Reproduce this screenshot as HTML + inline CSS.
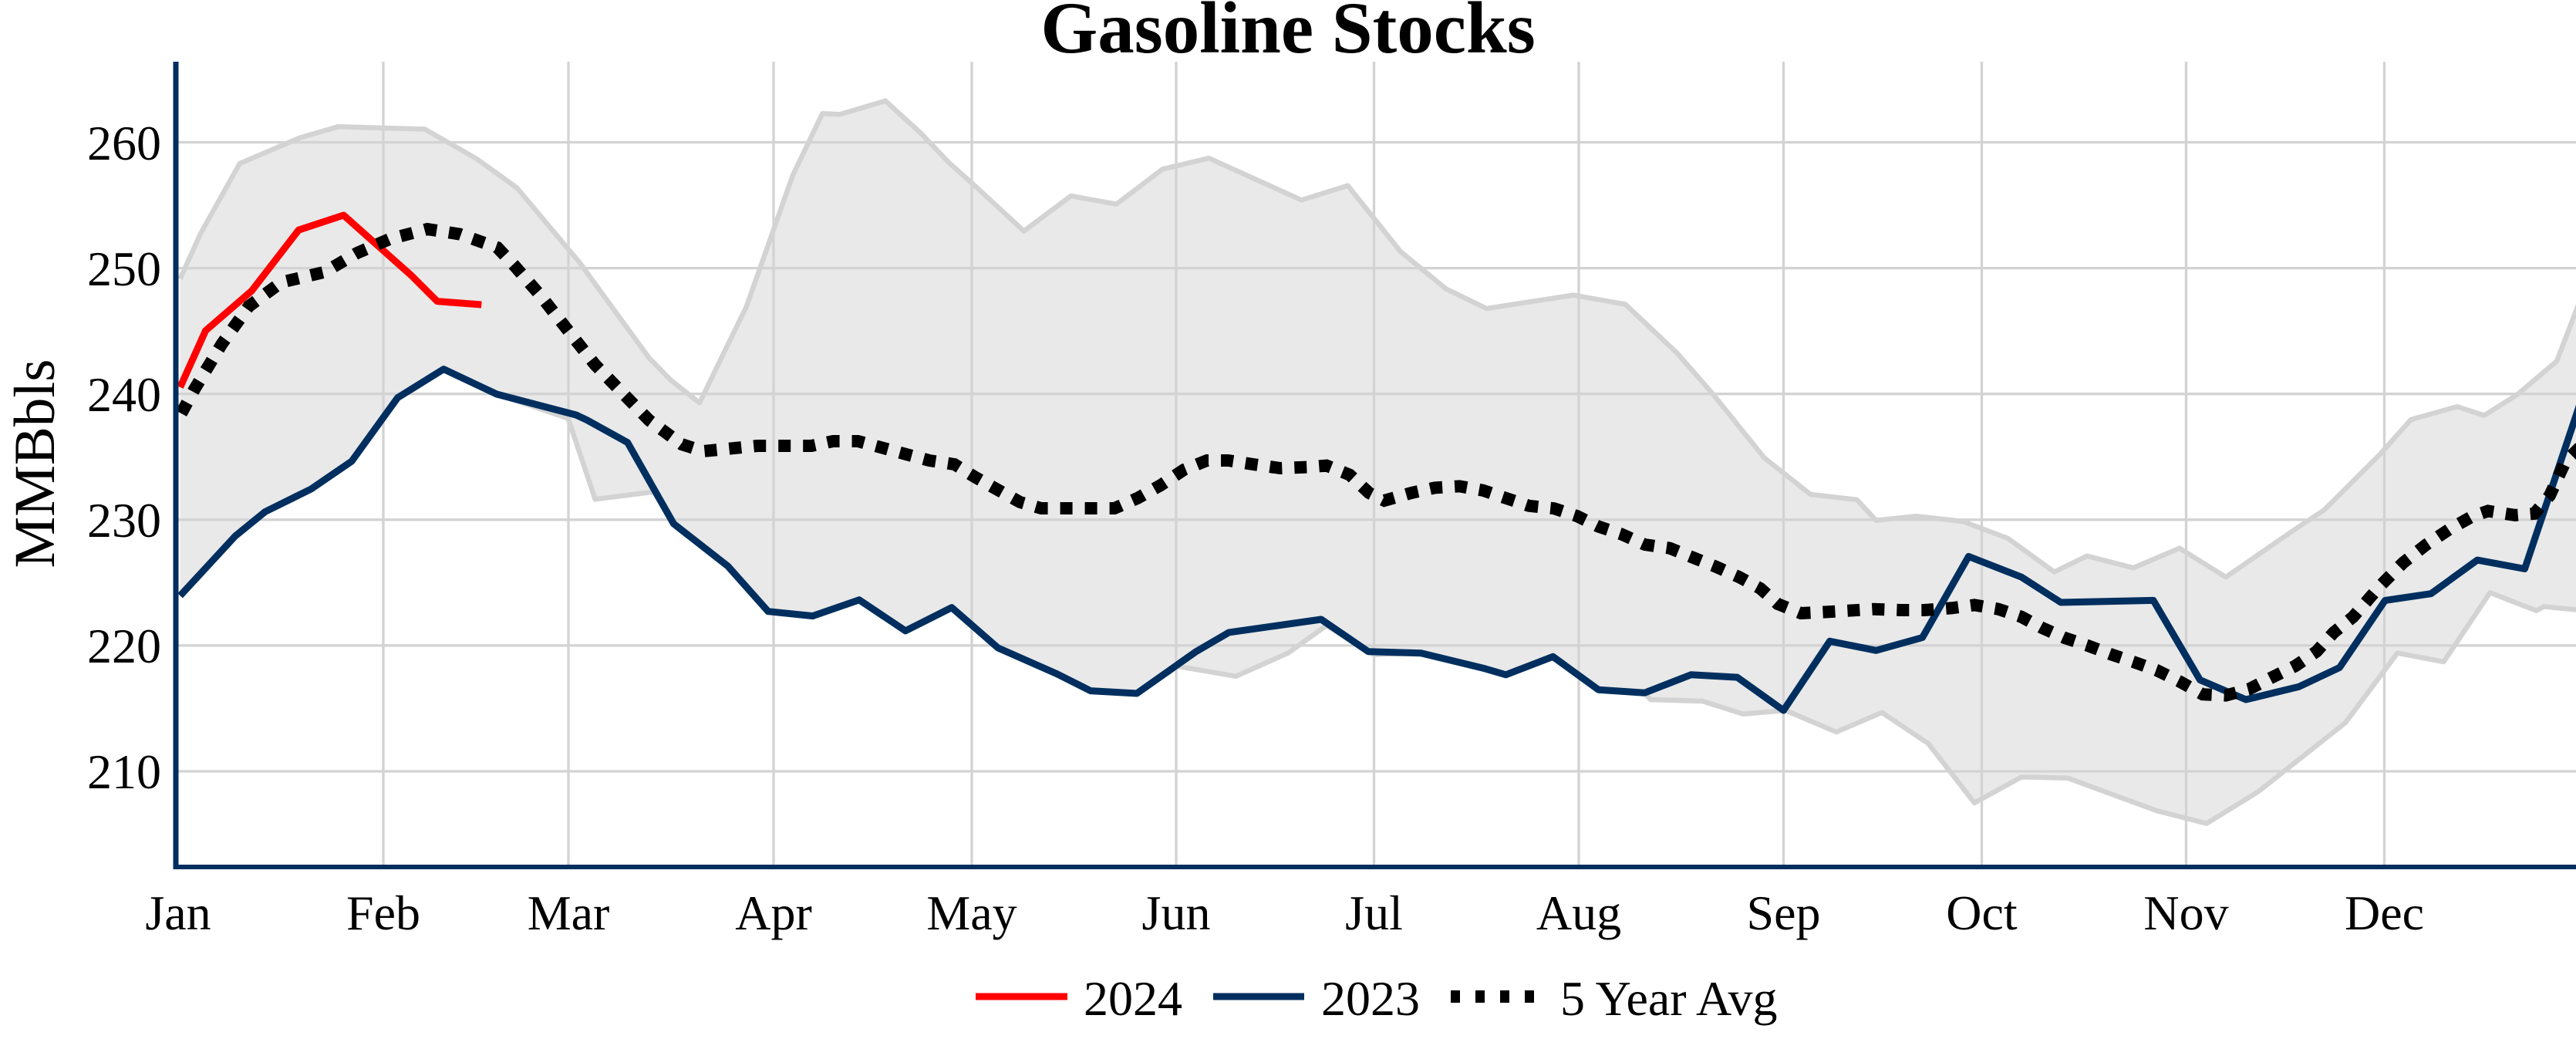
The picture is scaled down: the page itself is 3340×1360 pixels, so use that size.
<!DOCTYPE html>
<html>
<head>
<meta charset="utf-8">
<style>
html,body{margin:0;padding:0;background:#fff;}
svg{display:block;}
text{font-family:"Liberation Serif","Times New Roman",serif;fill:#000;}
</style>
</head>
<body>
<svg width="3340" height="1360" viewBox="0 0 3340 1360" xmlns="http://www.w3.org/2000/svg">
<defs>
<clipPath id="plot"><rect x="228" y="80" width="3112" height="1044"/></clipPath>
</defs>
<rect width="3340" height="1360" fill="#fff"/>

<!-- gridlines -->
<g stroke="#d3d3d3" stroke-width="3.3">
<line x1="228" y1="184.5" x2="3340" y2="184.5"/>
<line x1="228" y1="347.6" x2="3340" y2="347.6"/>
<line x1="228" y1="510.7" x2="3340" y2="510.7"/>
<line x1="228" y1="673.8" x2="3340" y2="673.8"/>
<line x1="228" y1="836.9" x2="3340" y2="836.9"/>
<line x1="228" y1="1000" x2="3340" y2="1000"/>
<line x1="497" y1="80" x2="497" y2="1124"/>
<line x1="737" y1="80" x2="737" y2="1124"/>
<line x1="1003" y1="80" x2="1003" y2="1124"/>
<line x1="1260" y1="80" x2="1260" y2="1124"/>
<line x1="1525" y1="80" x2="1525" y2="1124"/>
<line x1="1781.5" y1="80" x2="1781.5" y2="1124"/>
<line x1="2047" y1="80" x2="2047" y2="1124"/>
<line x1="2312.5" y1="80" x2="2312.5" y2="1124"/>
<line x1="2569.5" y1="80" x2="2569.5" y2="1124"/>
<line x1="2834.5" y1="80" x2="2834.5" y2="1124"/>
<line x1="3091.5" y1="80" x2="3091.5" y2="1124"/>
</g>

<g clip-path="url(#plot)" fill="none" stroke-linejoin="round">
<!-- band fill -->
<polygon fill="rgba(211,211,211,0.5)" stroke="none" points="
233.6,361.6 259.6,303.6 310.8,212 389,178.6 438.4,164.3 550.7,167.4 617.3,205.4 670,243.3 750.6,339.3 841.8,464.3 870,493 907,522.3 968,397 1027.7,227.7 1066.3,147.3 1089,148.2 1148,130.8 1195,173.7 1230,210.5 1260,237.3 1300,274 1327.5,299.6 1388.5,254 1447.5,264.7 1507.5,219.2 1567.5,205.1 1687.5,259.4 1747.5,240.6 1816,326.3 1875,374.6 1927.5,400 2040,382.6 2107.5,394.6 2175,458.3 2220,509.8 2287.5,593.5 2347.5,641 2407.5,647.8 2432.5,674.6 2485,669.2 2545,676 2603.5,698 2663.5,741.5 2706,720.8 2766,736.2 2826,710.7 2886,748.2 2976,686 3013.5,661.2 3086,588.8 3126,544 3186,527.2 3221,538.6 3263.5,511.8 3315,468.3 3345,390
3345,791 3340,791 3298.5,786.4 3288.5,791.7 3228.5,768.3 3168.5,858 3108.5,846.7 3041,937 2928.5,1026 2861,1067.6 2796,1051 2681,1008.7 2621,1007.4 2560,1040.9 2500,963.8 2440,923.7 2381,949 2315,921 2260,925.7 2207.5,909 2140,907 2132.5,898.2 2072.5,894.2 2013.5,851.3 1952.5,874.8 1925,866.8 1842.5,846.7 1781.5,848.7 1720,811 1670,846.7 1602.5,876.8 1525,863.4 1474,899 1414,895.6 1370,873.5 1294,840 1234,787.7 1174,817.9 1114,777.7 1053.7,798.6 996,792.7 943.5,733.8 873.4,679 848,638 841.8,638.4 771.7,647.3 736.6,542.4 644,511 575.2,478.6 515.6,515.6 456,598 403.4,634 343.7,663.5 305,695 233.6,772.3"/>
<!-- band upper line -->
<polyline stroke="#d3d3d3" stroke-width="6.5" points="233.6,361.6 259.6,303.6 310.8,212 389,178.6 438.4,164.3 550.7,167.4 617.3,205.4 670,243.3 750.6,339.3 841.8,464.3 870,493 907,522.3 968,397 1027.7,227.7 1066.3,147.3 1089,148.2 1148,130.8 1195,173.7 1230,210.5 1260,237.3 1300,274 1327.5,299.6 1388.5,254 1447.5,264.7 1507.5,219.2 1567.5,205.1 1687.5,259.4 1747.5,240.6 1816,326.3 1875,374.6 1927.5,400 2040,382.6 2107.5,394.6 2175,458.3 2220,509.8 2287.5,593.5 2347.5,641 2407.5,647.8 2432.5,674.6 2485,669.2 2545,676 2603.5,698 2663.5,741.5 2706,720.8 2766,736.2 2826,710.7 2886,748.2 2976,686 3013.5,661.2 3086,588.8 3126,544 3186,527.2 3221,538.6 3263.5,511.8 3315,468.3 3345,390"/>
<!-- band lower line -->
<polyline stroke="#d3d3d3" stroke-width="6.5" points="233.6,772.3 305,695 343.7,663.5 403.4,634 456,598 515.6,515.6 575.2,478.6 644,511 736.6,542.4 771.7,647.3 841.8,638.4 848,638 873.4,679 943.5,733.8 996,792.7 1053.7,798.6 1114,777.7 1174,817.9 1234,787.7 1294,840 1370,873.5 1414,895.6 1474,899 1525,863.4 1602.5,876.8 1670,846.7 1720,811 1781.5,848.7 1842.5,846.7 1925,866.8 1952.5,874.8 2013.5,851.3 2072.5,894.2 2132.5,898.2 2140,907 2207.5,909 2260,925.7 2315,921 2381,949 2440,923.7 2500,963.8 2560,1040.9 2621,1007.4 2681,1008.7 2796,1051 2861,1067.6 2928.5,1026 3041,937 3108.5,846.7 3168.5,858 3228.5,768.3 3288.5,791.7 3298.5,786.4 3345,791"/>

<!-- 2024 -->
<polyline stroke="#ff0000" stroke-width="9" points="233.6,502 266.6,428.6 326.2,377.2 387.2,298.2 445.5,279 533.2,357 566.8,390.6 624.3,395"/>

<!-- 2023 -->
<polyline stroke="#002f5f" stroke-width="9" points="233.6,772.3 305,695 343.7,663.5 403.4,634 456,598 515.6,515.6 575.2,478.6 644,511 747,538 761,544.6 813.7,573.7 873.4,679 943.5,733.8 996,792.7 1053.7,798.6 1114,777.7 1174,817.9 1234,787.7 1294,840 1370,873.5 1414,895.6 1474,899 1550,845.3 1593.5,819.9 1713,803 1774,844.7 1842.5,846.7 1925,866.8 1952.5,874.8 2013.5,851.3 2072.5,894.2 2132.5,898.2 2192.5,874.8 2252.5,878.1 2312.5,921 2372.5,831.3 2432.5,843.3 2492.5,826.6 2552.5,721.4 2621,748.2 2672,781 2792,778.4 2852.5,881.5 2912,907 2981,890.2 3033.5,865.4 3092.5,778.4 3152,769.7 3212,726.1 3273.5,737.5 3345,524"/>

<!-- 5 year avg -->
<polyline stroke="#000" stroke-width="16" stroke-dasharray="16 16" stroke-linejoin="miter" points="235,536 252.5,504 287.6,446 322.7,397 364.8,366 420.9,352.7 463,328 505,310 554,297 596,303.6 645,321 666.4,343.8 701.5,384 736.6,428.6 771.7,473 806.7,509 841.8,545 883.9,576 912,585 982,578 1052,578 1080,572 1112.5,572 1145,580.8 1175,589 1205,597 1237.5,602 1265,619 1295,635.7 1322.5,651 1350,659 1400,659 1445,659 1475,645.8 1505,629 1535,609 1565,597 1592.5,597 1625,602 1660,607 1695,605.6 1720,603.6 1750,615.6 1775,639 1795,649 1830,639 1860,632.4 1892.5,630.4 1922.5,635.7 1952.5,645.8 1982.5,655.8 2015,659.2 2045,669.2 2072.5,682.6 2102.5,692.6 2132.5,706 2165,710.7 2195,722.8 2225,734.8 2255,748.2 2282.5,763 2305,783 2335,795 2375,793 2430,789.7 2465,791 2495,791 2530,788.4 2560,784.4 2591,789.7 2621,799.8 2646,813.2 2676,826.6 2706,836.6 2736,848 2766,858 2796,868.8 2826,883.5 2856,900.2 2886,901.6 2916,893.5 2946,878.1 2976,863.4 3003.5,844.7 3026,819.9 3051,799.8 3086,759.6 3116,729.5 3146,706 3176,686 3206,669.2 3226,662.5 3261,667.9 3286,665.9 3306,642.4 3326,598.9 3345,580"/>
</g>

<!-- axes lines -->
<line x1="228" y1="80" x2="228" y2="1127" stroke="#002f5f" stroke-width="7"/>
<line x1="224.5" y1="1124" x2="3340" y2="1124" stroke="#002f5f" stroke-width="6"/>

<!-- y tick labels -->
<g font-size="64" text-anchor="end">
<text x="209" y="207">260</text>
<text x="209" y="370">250</text>
<text x="209" y="533">240</text>
<text x="209" y="696">230</text>
<text x="209" y="859">220</text>
<text x="209" y="1022">210</text>
</g>

<!-- x tick labels -->
<g font-size="64" text-anchor="middle">
<text x="231" y="1205">Jan</text>
<text x="497" y="1205">Feb</text>
<text x="737" y="1205">Mar</text>
<text x="1003" y="1205">Apr</text>
<text x="1260" y="1205">May</text>
<text x="1525" y="1205">Jun</text>
<text x="1781.5" y="1205">Jul</text>
<text x="2047" y="1205">Aug</text>
<text x="2312.5" y="1205">Sep</text>
<text x="2569.5" y="1205">Oct</text>
<text x="2834.5" y="1205">Nov</text>
<text x="3091.5" y="1205">Dec</text>
</g>

<!-- axis title -->
<text transform="translate(70,601) rotate(-90)" font-size="75" text-anchor="middle">MMBbls</text>

<!-- title -->
<text x="1670" y="68" font-size="95" font-weight="bold" text-anchor="middle">Gasoline Stocks</text>

<!-- legend -->
<line x1="1265" y1="1292" x2="1384" y2="1292" stroke="#ff0000" stroke-width="9"/>
<text x="1405" y="1316" font-size="64">2024</text>
<line x1="1573" y1="1292" x2="1691" y2="1292" stroke="#002f5f" stroke-width="9"/>
<text x="1713" y="1316" font-size="64">2023</text>
<line x1="1881" y1="1292" x2="1993" y2="1292" stroke="#000" stroke-width="16" stroke-dasharray="12 20"/>
<text x="2023" y="1316" font-size="64">5 Year Avg</text>
</svg>
</body>
</html>
